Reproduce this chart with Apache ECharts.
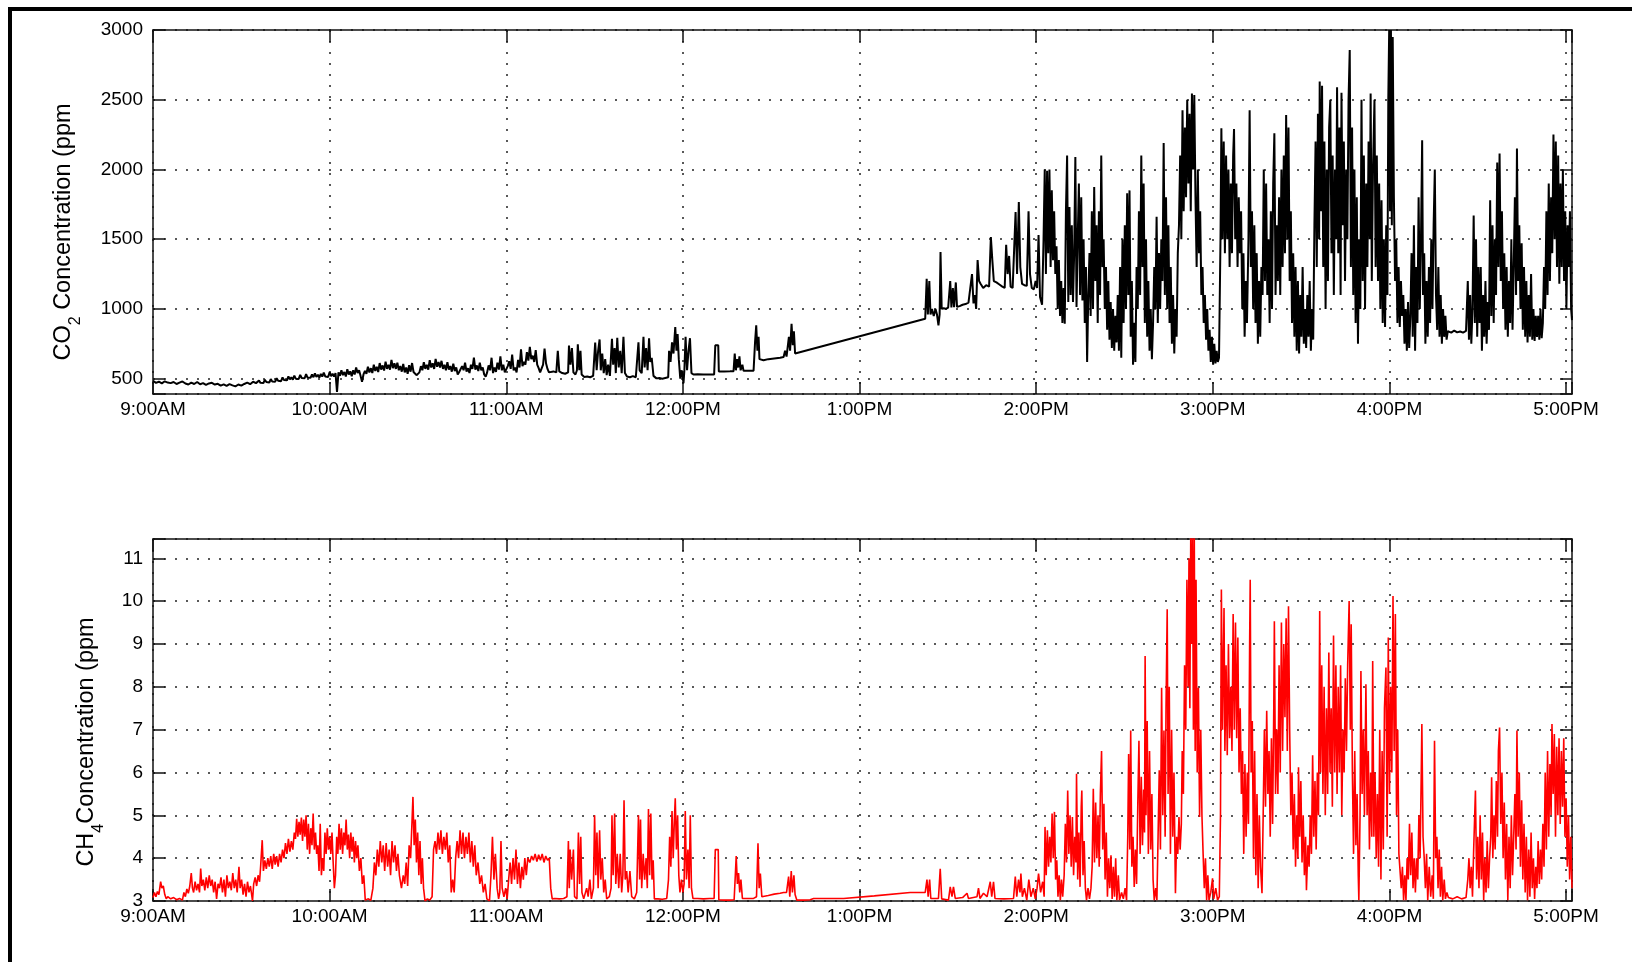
<!DOCTYPE html>
<html>
<head>
<meta charset="utf-8">
<title>CO2 / CH4 concentration</title>
<script src="https://cdn.jsdelivr.net/npm/echarts@6.0.0/dist/echarts.min.js"></script>
<style>
    html, body { margin: 0; padding: 0; background: #fff; }
    #chart { width: 1632px; height: 962px; }
</style>
</head>
<body>
<div id="chart"></div>
<script>
// time is minutes after 9:00AM
const tickLabels = ['9:00AM', '10:00AM', '11:00AM', '12:00PM', '1:00PM', '2:00PM', '3:00PM', '4:00PM', '5:00PM'];
const co2Ticks = [500, 1000, 1500, 2000, 2500, 3000];

const co2Data = [
    [0,485],[1,470],[2,478],[3,466],[4,481],[5,472],[6,468],[7,476],[8,462],[9,471],[10,480],[11,465],[12,458],[13,471],[14,462],
    [15,476],[16,460],[17,468],[18,455],[19,466],[20,470],[21,458],[22,463],[23,450],[24,459],[25,448],[26,461],[27,452],[28,445],
    [29,458],[30,450],[31,462],[32,471],[33,460],[34,478],[35,468],
    [36,486],[36.5,470],[37,482],[37.5,468],[38,492],[38.5,476],[39,488],[39.5,472],[40,497],[40.5,480],[41,492],[41.5,478],[42,503],
    [42.5,485],[43,498],[43.5,482],[44,509],[44.5,490],[45,502],[45.5,488],[46,516],[46.5,495],[47,510],[47.5,492],[48,522],[48.5,500],
    [49,514],[49.5,498],[50,527],[50.5,505],[51,518],[51.5,503],[52,532],[52.5,508],[53,522],[53.5,506],[54,530],[54.5,510],[55,538],
    [55.5,512],[56,528],[56.5,508],[57,534],[57.5,515],[58,543],[58.5,516],[59,530],[59.5,512],[60,548],[60.5,518],[61,536],[61.5,515],
    [62,540],[62.5,405],[63,545],[63.5,520],[64,560],[64.5,525],[65,548],[65.5,515],[66,568],[66.5,530],[67,552],[67.5,518],[68,560],
    [68.5,530],[69,580],[69.5,540],[70,560],[70.5,520],[71,478],[71.5,530],[72,556],[72.5,535],[73,585],[73.5,545],[74,575],[74.5,540],
    [75,600],[75.5,555],[76,585],[76.5,548],[77,612],[77.5,565],[78,595],[78.5,558],[79,622],[79.5,570],[80,600],[80.5,565],[81,635],
    [81.5,575],[82,610],[82.5,570],[83,615],[83.5,560],[84,590],[84.5,550],[85,605],[85.5,545],[86,580],[86.5,535],[87,596],[87.5,550],
    [88,612],[88.5,548],[89,560],[89.5,525],[90,518],[90.5,545],[91,590],[91.5,560],[92,618],[92.5,570],[93,600],[93.5,565],[94,632],
    [94.5,580],[95,610],[95.5,570],[96,642],[96.5,585],[97,620],[97.5,580],[98,628],[98.5,570],[99,600],[99.5,560],[100,618],[100.5,565],
    [101,590],[101.5,550],[102,608],[102.5,555],[103,580],[103.5,530],[104,548],[104.5,540],[105,590],[105.5,560],[106,615],[106.5,550],
    [107,575],[107.5,540],[108,600],[108.5,570],[109,650],[109.5,565],[110,595],[110.5,555],[111,615],[111.5,560],[112,580],[112.5,530],
    [113,515],[113.5,545],[114,595],[114.5,560],[115,650],[115.5,540],[116,580],[116.5,548],[117,615],[117.5,565],[118,660],[118.5,560],
    [119,600],[119.5,545],[120,540],[120.5,590],[121,625],[121.5,570],[122,672],[122.5,560],[123,580],[123.5,545],[124,635],[124.5,580],
    [125,710],[125.5,590],[126,620],[126.5,600],[127,690],[127.5,630],[128,728],[128.5,640],[129,665],[129.5,620],[130,705],[130.5,600],
    [131,575],[131.5,545],[132,555],[132.5,600],[133,715],[133.5,610],[134,570],[134.5,545],[135,548],
    [136,552],[137,545],[137.5,700],[138,552],[139,540],[140,535],[141,545],[141.3,738],[141.8,600],[142.3,720],[142.8,545],[143.5,530],
    [144,560],[144.3,746],[144.8,560],[145.2,700],[145.6,530],[146.5,512],[147.5,515],[148.5,510],[149.5,520],[150.2,758],[150.7,560],
    [151.2,700],[151.7,781],[152.1,560],[152.6,680],[153.1,540],[153.6,640],[154.1,525],[154.6,600],[155.2,520],[155.9,786],[156.3,600],
    [156.8,720],[157.2,540],[157.7,793],[158.2,580],[158.7,700],[159.2,540],[159.8,800],[160.3,540],[161,515],[162,510],[163,518],
    [164,510],[164.6,520],[164.9,760],[165.3,560],[166,540],[166.6,800],[167,580],[167.5,720],[168,560],[168.5,790],[168.9,620],
    [169.4,650],[170,520],[171,502],[172,505],[173,500],[174,505],[175,510],[175.3,700],[175.8,620],[176.3,760],[176.8,680],[177.4,870],
    [177.8,700],[178.2,820],[178.6,640],[179.1,500],[179.6,560],[180.2,467],[180.5,560],[180.9,800],[181.4,560],[181.9,700],[182.4,790],
    [182.9,540],[183.6,530],[185,531],[187,530],[189,529],[190.6,530],[191,739],[192,739],[192.2,552],[194,552],[196,553],[197.2,554],
    [197.6,680],[198,560],[198.4,640],[198.8,580],[199.2,660],[199.6,560],[200.2,600],[200.6,556],[202,556],[204,557],[204.5,760],
    [204.9,882],[205.3,700],[205.7,800],[206,640],[206.4,628],[207.4,632],[209,640],[211,645],[213,650],[214.2,655],[214.7,700],
    [215.2,658],[215.6,660],[216,800],[216.4,700],[216.9,894],[217.3,740],[217.7,840],[218.1,680],[218.7,670],
    [262.3,930],[262.8,1217],[263.2,960],[263.7,1200],[264.1,960],[264.6,1000],[265.2,950],[265.8,1000],[266.3,960],[266.8,882],
    [267.2,960],[267.5,1408],[267.9,1000],[268.6,1005],[269.3,1000],[270.1,1010],[270.8,1200],[271.2,1010],[271.7,1150],[272.1,1012],
    [272.7,1190],[273.1,1015],[274,1020],[275,1030],[276,1035],[277,1045],[277.6,1050],[278.2,1250],[278.7,1040],[279.2,1100],
    [279.6,1000],[280.1,1350],[280.6,1200],[281.1,1180],[282,1150],[283,1170],[284,1160],[284.6,1516],[285.1,1350],[285.6,1200],
    [286.5,1190],[287.5,1175],[288.5,1160],[289.3,1150],[289.8,1460],[290.3,1250],[290.8,1380],[291.3,1160],[292,1150],[292.5,1160],
    [293,1695],[293.5,1250],[294.1,1767],[294.6,1300],[295.2,1180],[296,1170],[296.8,1165],[297.4,1700],[297.9,1250],[298.5,1150],
    [299.2,1140],[299.8,1200],[300.3,1150],[300.8,1530],[301.3,1086],[302,1030],
    [302.5,1500],[302.9,2000],[303.3,1250],[303.7,1990],[304.1,1400],[304.5,2000],[304.9,1300],[305.3,1850],[305.7,1350],[306.1,1700],
    [306.5,1250],[306.9,1450],[307.3,1000],[307.7,1350],[308.1,950],[308.5,1200],[308.9,900],[309.3,1150],[309.7,894],[310.1,1700],
    [310.5,2100],[310.9,1050],[311.3,1730],[311.7,1100],[312.1,1600],[312.5,1050],[312.9,1400],[313.3,2090],[313.7,1014],[314.1,1500],
    [314.5,1900],[314.9,1100],[315.3,1800],[315.7,1060],[316.1,1500],[316.5,900],[316.9,1300],[317.3,620],[317.7,1100],[318.1,1400],
    [318.5,950],[318.9,1700],[319.3,1000],[319.7,1875],[320.1,1200],[320.5,1600],[320.9,900],[321.3,1700],[321.7,1100],[322.1,2100],
    [322.5,1300],[322.9,1500],[323.3,1000],[323.7,1300],[324.1,850],[324.5,1200],[324.9,780],[325.3,1050],[325.7,720],[326.1,1000],
    [326.5,700],[326.9,950],[327.3,760],[327.7,1100],[328.1,700],[328.5,1300],[328.9,650],[329.3,1500],[329.7,900],[330.1,1600],
    [330.5,1000],[330.9,1830],[331.3,1100],[331.7,1850],[332.1,800],[332.5,1200],[332.9,600],[333.3,900],[333.7,620],[334.1,1300],
    [334.5,1000],[334.9,1700],[335.3,1100],[335.7,2100],[336.1,1300],[336.5,1900],[336.9,900],[337.3,1500],[337.7,800],[338.1,1200],
    [338.5,700],[338.9,1000],[339.3,640],[339.7,900],[340.1,1300],[340.5,1000],[340.9,1660],[341.3,900],[341.7,1400],[342.1,1000],
    [342.5,1500],[342.9,1200],[343.3,2190],[343.7,1100],[344.1,1800],[344.5,1000],[344.9,1600],[345.3,900],[345.7,1300],[346.1,750],
    [346.5,1100],[346.9,680],[347.3,1000],[347.7,800],[348.1,1400],[348.5,1600],[348.9,2100],[349.3,1500],[349.7,2425],[350.1,1700],
    [350.5,2300],[350.9,1800],[351.3,2500],[351.7,1900],[352.1,2400],[352.5,1700],[352.9,2545],[353.3,2000],[353.7,2533],[354.1,1800],
    [354.5,1300],[354.9,2000],[355.3,1400],[355.7,1700],[356.1,1100],[356.5,1300],[356.9,900],[357.3,1100],[357.7,780],[358.1,1000],
    [358.5,700],[358.9,850],[359.3,620],[359.7,800],[360.1,600],[360.5,750],[360.9,610],[361.3,700],[361.7,620],[362.1,650],
    [362.6,1500],[362.9,2295],[363.3,1500],[363.7,2200],[364.1,1400],[364.5,2100],[364.9,1500],[365.3,2000],[365.7,1300],[366.1,1900],
    [366.5,1400],[366.9,2100],[367.2,2290],[367.6,1500],[368,1900],[368.4,1300],[368.8,1800],[369.2,1400],[369.6,1700],[370,1000],
    [370.4,1400],[370.8,800],[371.2,1200],[371.6,900],[372.1,1500],[372.5,2425],[372.9,1300],[373.3,1700],[373.7,1000],[374.1,1600],
    [374.5,900],[374.9,1400],[375.3,750],[375.7,1200],[376.1,800],[376.5,1300],[376.9,1100],[377.3,2000],[377.7,1200],[378.1,1900],
    [378.5,1100],[378.9,1500],[379.3,900],[379.7,1700],[380.1,1000],[380.5,1900],[380.9,2260],[381.3,1100],[381.7,1600],[382.1,1200],
    [382.5,1800],[382.9,1100],[383.3,2000],[383.7,1300],[384.1,2100],[384.5,1400],[384.9,2390],[385.3,1500],[385.7,2300],[386.1,1200],
    [386.5,1700],[386.9,900],[387.3,1400],[387.7,800],[388.1,1300],[388.5,700],[388.9,1200],[389.3,680],[389.7,1100],[390.1,800],
    [390.5,1300],[390.9,750],[391.3,1000],[391.7,720],[392.1,1100],[392.5,800],[392.9,1200],[393.3,700],[393.7,1000],[394.1,780],
    [394.5,1600],[394.9,2200],[395.3,1300],[395.7,2400],[396.1,1500],[396.3,2630],[396.7,1700],[397.1,2600],[397.5,1300],[397.9,2200],
    [398.3,1000],[398.7,2000],[399.1,1200],[399.5,2300],[399.9,2500],[400.3,1400],[400.7,2100],[401.1,1100],[401.5,2000],[401.9,1500],
    [402.2,2590],[402.6,1400],[403,2300],[403.4,1100],[403.7,2550],[404.1,1600],[404.5,2200],[404.9,1200],[405.3,2000],[405.7,1500],
    [406.1,2500],[406.5,2856],[406.9,1300],[407.3,2300],[407.7,1100],[408.1,2000],[408.5,900],[408.9,1800],[409.3,750],[409.7,1500],
    [410.1,1000],[410.5,2500],[410.9,1200],[411.3,2100],[411.7,1000],[412.1,1900],[412.5,1300],[412.9,2200],[413.3,1500],[413.6,2545],
    [414,1200],[414.4,2000],[414.9,2500],[415.3,1300],[415.7,2100],[416.1,1200],[416.5,1900],[416.9,1000],[417.3,1780],[417.7,900],
    [418.1,1500],[418.5,870],[418.9,1600],[419.3,1100],[419.6,2500],[419.9,3000],[420.2,1700],[420.5,3000],[420.8,1600],[421.1,2950],
    [421.5,1800],[421.9,1200],[422.3,1500],[422.7,900],[423.1,1300],[423.5,870],[423.9,1200],[424.3,950],[424.7,1100],[425.1,750],
    [425.5,1000],[425.9,700],[426.3,1050],[426.7,720],[427.1,950],[427.5,1400],[427.9,800],[428.3,1600],[428.7,700],[429.1,1300],
    [429.5,900],[429.9,1800],[430.3,1000],[430.7,1500],[431.1,2210],[431.4,1100],[431.8,1400],[432.2,750],[432.6,1200],[433,800],
    [433.4,1300],[433.8,900],[434.2,1500],[434.6,1000],[435,1600],[435.4,2000],[435.8,1100],[436.2,850],[436.6,1300],[437,800],
    [437.4,1100],[437.8,750],[438.2,1000],[438.6,800],[439,950],[439.4,780],[439.8,840],[441,830],[442,845],[443,832],[444,838],
    [445,830],[446,842],[446.6,1200],[447,780],[447.4,1100],[447.8,750],[448.2,1000],[448.6,1670],[449,900],[449.4,1500],[449.8,800],
    [450.2,1300],[450.6,900],[451,1300],[451.4,700],[451.8,1100],[452.2,800],[452.6,1200],[453,750],[453.4,1050],[453.8,850],
    [454.2,1780],[454.6,950],[455,1600],[455.4,900],[455.8,1500],[456.2,1100],[456.6,2050],[457,1300],[457.4,2115],[457.8,1200],
    [458.2,1700],[458.6,1000],[459,1400],[459.4,850],[459.8,1300],[460.2,800],[460.6,1200],[461,900],[461.4,1500],[461.8,850],
    [462.2,1300],[462.6,1800],[463,1100],[463.3,2150],[463.7,1200],[464.1,1600],[464.5,1000],[464.9,1470],[465.3,850],[465.7,1300],
    [466.1,800],[466.5,1200],[466.9,760],[467.3,1100],[467.7,800],[468.1,1250],[468.5,780],[468.9,1000],[469.3,770],[469.7,950],
    [470.1,800],[470.5,950],[470.9,780],[471.3,1000],[471.7,790],[472.1,900],[472.5,1300],[472.9,1000],[473.3,1700],[473.7,1100],
    [474.1,1900],[474.5,1200],[474.9,1800],[475.3,1400],[475.7,2250],[476.1,1500],[476.5,2200],[476.9,1300],[477.3,2100],[477.7,1180],
    [478.1,1900],[478.5,1300],[478.9,2000],[479.3,1200],[479.7,1700],[480.1,1000],[480.5,1600],[480.9,1300],[481.3,1700],[481.7,1000],
    [482,920]
];

const ch4Data = [
    [0,3.08],[0.5,3.2],[1,3.1],[1.5,3.22],[2,3.15],[2.6,3.45],[3,3.3],[3.5,3.35],[4,3.15],[4.5,3.05],[5,3.1],[6,3.05],[7,3.08],[8,3.03],
    [9,3.06],[10,3.02],[10.5,3.2],[11,3.1],[11.5,3.28],[12,3.18],[12.5,3.35],[13,3.65],[13.4,3.3],[13.8,3.2],[14.3,3.45],[14.8,3.25],
    [15.3,3.4],[15.8,3.2],[16.2,3.76],[16.6,3.35],[17.1,3.5],[17.6,3.25],[18.1,3.55],[18.6,3.3],[19.1,3.6],[19.6,3.35],[20.1,3.5],
    [20.6,3.2],[21.1,3.45],[21.6,3.05],[22.1,3.4],[22.6,3.3],[23.1,3.55],[23.6,3.2],[24.1,3.5],[24.6,3.1],[25.1,3.6],[25.6,3.3],
    [26.1,3.45],[26.6,3.25],[27.1,3.65],[27.6,3.3],[28.1,3.5],[28.6,3.2],[29.2,3.8],[29.6,3.3],[30.1,3.5],[30.6,3.15],[31.1,3.4],
    [31.6,3.1],[32.1,3.45],[32.6,3.2],[33.1,3.35],[33.8,3.0],[34.2,3.4],[34.7,3.55],[35.2,3.35],[35.7,3.6],[36.2,3.45],[36.6,3.85],
    [37.1,4.42],[37.5,3.7],[38,3.95],[38.5,3.75],[39,4.0],[39.5,3.8],[40,4.05],[40.5,3.75],[41,4.1],[41.5,3.85],[42,4.05],[42.5,3.8],
    [43,4.1],[43.5,3.9],[44,4.2],[44.5,4.0],[45,4.35],[45.5,4.1],[46,4.45],[46.5,4.15],[47,4.4],[47.5,4.2],[48,4.6],[48.4,4.45],
    [48.8,4.92],[49.2,4.5],[49.6,4.85],[50,4.55],[50.4,4.95],[50.8,4.4],[51.2,4.9],[51.6,4.5],[52,5.0],[52.4,4.2],[52.8,4.8],[53.2,4.1],
    [53.6,4.7],[54,4.3],[54.4,5.04],[54.8,4.2],[55.2,4.6],[55.6,4.1],[56,4.3],[56.4,3.7],[56.8,4.8],[57.2,3.6],[57.6,4.0],[58,3.7],
    [58.4,4.6],[58.8,4.1],[59.2,4.7],[59.6,4.2],[60,4.5],[60.4,4.1],[60.8,4.6],[61.2,3.9],[61.6,3.3],[62,3.6],[62.4,4.5],[62.8,4.1],
    [63.2,4.8],[63.6,4.2],[64,4.7],[64.4,4.1],[64.8,4.6],[65.2,4.3],[65.6,4.9],[66,4.2],[66.4,4.55],[66.8,4.0],[67.2,4.6],[67.6,4.15],
    [68,4.5],[68.4,3.9],[68.8,4.4],[69.2,4.0],[69.6,4.3],[70.1,3.7],[70.6,4.0],[71.1,3.4],[71.6,3.6],[72.1,3.02],[73,3.05],[74,3.02],
    [74.7,3.3],[75.2,3.9],[75.7,3.6],[76.2,4.2],[76.7,3.8],[77.2,4.4],[77.7,3.9],[78.2,4.3],[78.7,3.7],[79.2,4.35],[79.7,3.8],[80.2,4.2],
    [80.7,3.6],[81.2,4.4],[81.7,3.9],[82.2,4.3],[82.7,3.7],[83.2,4.1],[83.7,3.6],[84.4,3.3],[85,3.6],[85.5,3.4],[86,3.9],[86.5,3.35],
    [87,4.3],[87.5,4.0],[88.3,5.43],[88.7,4.3],[89.1,4.9],[89.5,3.9],[89.9,4.6],[90.3,3.6],[90.7,4.4],[91.1,3.4],[91.5,4.0],[91.9,3.3],
    [92.4,3.0],[93.2,3.05],[94,3.02],[94.8,3.1],[95.3,4.2],[95.8,4.4],[96.3,4.1],[96.8,4.6],[97.3,4.2],[97.8,4.65],[98.3,4.1],[98.8,4.5],
    [99.3,4.2],[99.8,4.6],[100.3,3.9],[100.8,4.3],[101.3,3.2],[101.8,3.5],[102.3,3.2],[102.8,4.0],[103.3,4.4],[103.8,4.0],[104.3,4.65],
    [104.8,4.1],[105.3,4.6],[105.8,4.0],[106.3,4.5],[106.8,4.1],[107.3,4.6],[107.8,3.9],[108.3,4.4],[108.8,3.8],[109.3,4.3],[109.8,3.6],
    [110.4,3.9],[111,3.4],[111.6,3.6],[112.2,3.2],[112.8,3.4],[113.4,3.05],[114.3,3.0],[114.8,3.6],[115.3,4.5],[115.8,3.5],[116.3,4.1],
    [116.9,3.3],[117.4,3.05],[117.8,3.2],[118.2,4.4],[118.6,3.3],[119.2,3.1],[119.8,3.3],[120.3,3.05],[120.8,3.5],[121.3,3.9],[121.8,3.4],
    [122.3,4.0],[122.8,3.5],[123.3,4.2],[123.8,3.4],[124.3,3.9],[124.8,3.3],[125.3,3.8],[125.8,3.5],[126.3,4.0],[126.8,3.6],[127.3,4.0],
    [128,3.9],[128.6,4.05],[129.2,3.95],[129.8,4.1],[130.4,3.92],[131,4.08],[131.6,3.95],[132.2,4.1],[132.8,3.9],[133.4,4.05],[134,3.95],
    [134.6,4.0],[135.1,3.3],[135.6,3.05],
    [136.5,3.06],[138,3.05],[139.5,3.06],[140.6,3.1],[141.1,4.4],[141.4,3.3],[141.7,4.2],[142.2,3.5],[142.8,4.2],[143.2,3.1],[144,3.05],
    [144.5,4.6],[144.9,3.4],[145.3,4.5],[145.7,3.2],[146.3,3.05],[147.3,3.3],[147.8,3.1],[148.4,3.5],[148.9,3.05],[149.6,3.3],[150,5.0],
    [150.4,3.6],[150.8,4.6],[151.2,3.3],[151.7,4.65],[152.1,3.5],[152.6,4.0],[153.1,3.2],[153.6,3.5],[154.1,3.05],[155,3.1],[155.6,3.3],
    [155.9,5.0],[156.3,3.6],[156.8,5.04],[157.2,3.4],[157.7,4.1],[158.2,3.3],[158.7,4.1],[159.2,3.2],[159.6,3.6],[160,5.35],[160.4,3.5],
    [160.9,3.7],[161.4,3.2],[162,3.7],[162.6,3.1],[163.5,3.05],[164.3,3.2],[164.9,5.0],[165.3,3.5],[165.6,4.9],[166,3.3],[166.5,4.1],
    [167,3.5],[167.5,4.0],[167.9,3.3],[168.3,5.15],[168.7,3.6],[169.1,5.04],[169.5,3.5],[169.9,3.95],[170.3,3.05],[171.5,3.05],[173,3.04],
    [174.5,3.06],[175.1,3.5],[175.5,4.5],[175.9,3.8],[176.3,5.1],[176.7,4.0],[177.1,4.9],[177.4,5.4],[177.8,4.2],[178.2,5.0],[178.6,3.6],
    [179,3.2],[179.5,3.5],[180,3.2],[180.4,3.4],[180.8,5.1],[181.2,3.5],[181.7,4.2],[182.1,3.3],[182.5,5.0],[182.9,3.3],[183.4,3.06],
    [185,3.06],[187,3.05],[189,3.06],[190.6,3.06],[191,4.2],[192,4.2],[192.2,3.03],[194,3.02],[196,3.02],[197.4,3.03],[197.8,3.6],
    [198.1,4.05],[198.5,3.4],[198.9,3.65],[199.3,3.2],[199.7,3.5],[200.2,3.06],[202,3.06],[204,3.06],[205,3.1],[205.5,4.35],[205.9,3.3],
    [206.3,3.64],[206.8,3.1],[209,3.13],[211,3.16],[213,3.18],[214.2,3.2],[215.2,3.2],[215.9,3.57],[216.3,3.1],[216.8,3.7],[217.2,3.2],
    [217.7,3.6],[218.1,3.15],[218.7,3.02],[221,3.02],[223.2,3.03],[224.4,3.06],[230,3.06],[234.6,3.06],[245,3.12],[257.2,3.2],[262.3,3.2],
    [262.9,3.5],[263.3,3.1],[263.8,3.5],[264.2,3.06],[266.8,3.06],[267.4,3.75],[267.9,3.05],[270.2,3.02],[270.8,3.33],[271.4,3.1],
    [271.9,3.33],[272.5,3.06],[275,3.08],[276.5,3.18],[277,3.06],[279.9,3.1],[280.4,3.3],[280.9,3.06],[282.1,3.18],[283.3,3.1],
    [284.4,3.45],[284.9,3.1],[285.5,3.45],[286,3.06],[289,3.05],[292.3,3.06],[292.9,3.57],[293.4,3.1],[294,3.5],[294.5,3.2],[294.8,3.64],
    [295.3,3.1],[296,3.3],[296.8,3.02],[297.5,3.5],[298.2,3.1],[299,3.3],[299.7,3.05],[300.3,3.3],[300.8,3.64],[301.5,3.2],[302.2,3.45],
    [302.7,3.1],
    [303,4.73],[303.4,3.6],[303.8,4.65],[304.2,3.8],[304.6,4.5],[305,3.9],[305.4,5.04],[305.8,4.0],[306.2,5.08],[306.6,3.5],[307,3.95],
    [307.4,3.1],[307.8,3.6],[308.2,3.02],[308.6,3.5],[309,3.1],[309.5,3.6],[309.9,4.8],[310.3,3.9],[310.7,5.58],[311.1,4.1],[311.5,5.0],
    [311.9,3.8],[312.3,4.96],[312.7,3.6],[313.1,4.5],[313.5,3.9],[313.7,5.97],[314.1,3.5],[314.5,4.6],[314.9,3.33],[315.3,5.2],[315.5,5.58],
    [315.9,3.6],[316.3,4.4],[316.7,3.3],[317.1,3.02],[317.6,3.3],[318.1,3.05],[318.6,3.3],[319,3.8],[319.4,5.62],[319.8,3.9],[320.2,5.3],
    [320.6,4.0],[321,5.0],[321.4,3.8],[321.8,5.5],[322.2,6.5],[322.6,4.2],[323,5.27],[323.4,3.5],[323.8,4.6],[324.2,3.1],[324.6,4.0],
    [325,3.3],[325.4,4.07],[325.8,3.05],[326.2,3.8],[326.6,3.1],[327,4.0],[327.4,3.02],[327.9,3.6],[328.3,3.02],[329,3.2],[329.6,3.05],
    [330.2,3.3],[330.7,3.02],[331.1,4.5],[331.4,6.43],[331.8,4.2],[332.1,6.98],[332.5,3.8],[332.9,4.5],[333.3,3.33],[333.7,4.2],[334.1,3.4],
    [334.5,5.2],[334.9,6.74],[335.3,4.1],[335.7,5.9],[336.1,4.3],[336.5,5.6],[336.8,4.6],[337,8.72],[337.3,5.0],[337.7,7.2],[338.1,4.1],
    [338.5,6.5],[338.9,4.2],[339.3,5.5],[339.7,3.5],[340.1,3.02],[340.6,3.3],[341,3.02],[341.4,4.5],[341.8,6.05],[342.2,4.2],[342.6,7.98],
    [343,5.0],[343.4,6.98],[343.8,4.5],[344.1,7.5],[344.5,9.81],[344.8,5.5],[345.2,8.0],[345.6,4.1],[346,7.0],[346.4,4.5],[346.8,6.0],
    [347.3,3.18],[347.7,4.5],[348.1,4.1],[348.5,4.96],[348.9,4.2],[349.3,4.8],[349.6,6.5],[350,5.5],[350.4,8.5],[350.8,7.0],[351.2,10.5],
    [351.6,8.0],[351.9,11.0],[352.2,7.5],[352.5,11.5],[352.8,9.0],[353.1,11.6],[353.4,7.0],[353.7,11.5],[354,6.5],[354.3,10.5],[354.7,6.0],
    [355.1,7.98],[355.5,4.96],[355.9,7.0],[356.3,5.0],[356.7,4.1],[357.1,3.3],[357.5,4.0],[357.9,3.02],[358.3,3.6],[358.7,3.02],[359.3,3.2],
    [359.9,3.53],[360.3,3.05],[361,3.3],[361.6,3.02],[362.2,3.1],[362.6,5.0],[362.9,10.27],[363.3,7.0],[363.8,9.84],[364.1,6.5],[364.5,8.5],
    [364.9,6.4],[365.3,9.0],[365.7,6.8],[366.1,8.0],[366.5,6.5],[366.9,9.7],[367.3,7.0],[367.7,9.5],[368.1,6.8],[368.5,9.15],[368.9,6.0],
    [369.3,7.5],[369.7,5.5],[370.1,6.5],[370.5,4.1],[370.9,6.2],[371.3,4.5],[371.7,6.0],[372.1,4.8],[372.5,9.0],[372.7,10.5],[373,6.0],
    [373.4,7.2],[373.8,4.0],[374.2,6.5],[374.6,3.6],[375,5.5],[375.4,3.3],[375.8,5.0],[376.2,3.8],[376.7,3.18],[377.1,5.0],[377.5,7.0],
    [377.9,5.2],[378.3,7.44],[378.7,5.5],[379.1,6.5],[379.5,4.5],[379.9,6.8],[380.3,4.8],[380.7,7.5],[380.9,9.53],[381.3,5.5],[381.7,7.0],
    [382.1,5.5],[382.5,8.5],[382.9,6.0],[383.3,9.5],[383.7,6.5],[384.1,9.0],[384.5,7.29],[384.9,9.6],[385.3,6.5],[385.7,9.88],[386.1,7.0],
    [386.5,5.0],[386.9,6.0],[387.3,4.2],[387.7,5.5],[388.1,3.8],[388.5,5.0],[388.9,4.0],[389.1,6.12],[389.5,4.5],[389.9,5.8],[390.3,3.9],
    [390.7,5.0],[391.1,3.6],[391.5,4.5],[391.8,3.25],[392.3,4.3],[392.7,3.8],[393.1,5.0],[393.5,4.1],[393.9,6.4],[394.3,4.5],[394.7,5.8],
    [395.1,4.2],[395.5,6.0],[395.9,5.0],[396.3,9.77],[396.6,6.0],[397,8.5],[397.4,5.5],[397.8,8.0],[398.2,5.0],[398.6,7.5],[399,5.5],
    [399.4,8.8],[399.8,6.0],[400.2,7.5],[400.6,5.2],[401,9.2],[401.4,6.0],[401.8,8.5],[402.2,5.5],[402.6,8.0],[403,6.0],[403.4,8.5],
    [403.8,5.0],[404.2,7.0],[404.6,6.0],[405,8.2],[405.4,6.5],[405.8,8.5],[406.3,10.0],[406.7,7.0],[407,9.46],[407.4,6.0],[407.8,4.1],
    [408.2,6.5],[408.6,4.3],[409,5.5],[409.4,3.6],[409.6,3.02],[410,5.0],[410.3,8.37],[410.7,5.5],[411.1,7.0],[411.5,5.0],[412,8.06],
    [412.4,5.0],[412.8,6.5],[413.2,4.2],[413.6,6.0],[414,4.5],[414.3,8.6],[414.7,4.5],[415.1,6.0],[415.5,4.0],[415.9,5.5],[416.3,3.8],
    [416.7,7.0],[417.1,3.5],[417.5,6.5],[417.9,4.2],[418.3,7.5],[418.8,8.45],[419.2,4.5],[419.6,9.15],[420,5.5],[420.4,8.0],[420.8,6.0],
    [421.2,10.12],[421.6,6.5],[422,9.7],[422.4,5.0],[422.8,7.0],[423.2,4.1],[423.6,4.1],[424,3.3],[424.4,3.8],[424.8,3.02],[425.2,3.6],
    [425.6,3.02],[426,4.0],[426.4,3.5],[426.8,4.8],[427.2,3.6],[427.6,4.6],[428,3.3],[428.4,4.0],[428.8,3.2],[429.2,4.0],[429.6,3.5],
    [430,5.0],[430.4,4.0],[430.8,6.0],[431,7.13],[431.4,4.5],[431.8,4.0],[432.2,3.3],[432.6,4.1],[433,3.02],[433.5,3.8],[434,3.1],
    [434.5,3.6],[434.9,3.05],[435.3,6.74],[435.7,4.0],[436.1,4.5],[436.5,3.3],[436.9,4.2],[437.3,3.1],[437.7,3.8],[438.1,3.02],[438.6,3.5],
    [439,3.05],[439.5,3.2],[440,3.08],[441.5,3.05],[443,3.1],[444.5,3.05],[446,3.08],[446.6,3.5],[447,4.0],[447.4,3.3],[447.8,3.8],
    [448.2,3.1],[448.6,4.2],[449.2,5.58],[449.6,3.5],[450,4.5],[450.4,3.3],[450.8,5.0],[451.2,3.5],[451.6,4.6],[452,3.02],[452.4,4.0],
    [452.8,3.2],[453.2,4.4],[453.6,3.3],[454,4.0],[454.4,4.5],[454.7,5.89],[455.1,4.0],[455.5,5.0],[455.9,4.2],[456.3,5.8],[456.7,4.5],
    [457,6.5],[457.4,7.05],[457.8,4.8],[458.2,6.0],[458.6,4.0],[459,5.3],[459.4,3.5],[459.8,4.8],[460.2,3.02],[460.6,4.5],[461,3.3],
    [461.4,5.0],[461.8,3.6],[462.2,4.5],[462.6,5.5],[463,4.2],[463.3,6.98],[463.7,4.5],[464.1,6.0],[464.5,3.8],[464.9,5.35],[465.3,3.5],
    [465.7,4.8],[466.1,3.2],[466.5,4.5],[466.9,3.02],[467.3,4.2],[467.7,3.1],[468.1,4.6],[468.5,3.3],[468.9,4.0],[469.3,3.05],[469.7,3.8],
    [470.1,3.3],[470.5,4.4],[470.9,3.4],[471.3,4.2],[471.7,3.5],[472.1,4.8],[472.5,3.8],[472.9,6.0],[473.3,4.2],[473.7,6.5],[474.1,4.5],
    [474.5,6.2],[474.9,5.0],[475.2,7.13],[475.6,5.5],[476,6.9],[476.4,4.5],[476.8,6.6],[477.2,5.0],[477.6,6.8],[478,4.8],[478.4,6.5],
    [478.8,5.2],[479.2,6.8],[479.6,4.5],[480,5.4],[480.4,3.8],[480.8,5.0],[481.2,3.5],[481.6,4.5],[482,3.3]
];

const FONT = "'Liberation Sans', Arial, sans-serif";
const AXIS_COLOR = '#111';
const gridDots = { color: '#222', type: [2, 9], width: 1.5 };

function timeAxis(gridIndex, position) {
    return {
        type: 'value',
        gridIndex: gridIndex,
        position: position,
        min: 0,
        max: 482,
        interval: 60,
        axisLine: { show: true, onZero: false, lineStyle: { color: AXIS_COLOR, width: 1.5 } },
        axisTick: { show: true, inside: true, length: 12, lineStyle: { color: AXIS_COLOR, width: 1.5 } },
        axisLabel: {
            show: position === 'bottom',
            margin: 6,
            color: '#000',
            fontSize: 19,
            fontFamily: FONT,
            formatter: function (v) {
                return v % 60 === 0 ? tickLabels[v / 60] : '';
            }
        },
        splitLine: { show: position === 'bottom', lineStyle: gridDots }
    };
}

function valueAxis(gridIndex, position, min, max, labelFn) {
    return {
        type: 'value',
        gridIndex: gridIndex,
        position: position,
        min: min,
        max: max,
        axisLine: { show: true, onZero: false, lineStyle: { color: AXIS_COLOR, width: 1.5 } },
        axisTick: { show: true, inside: true, length: 12, lineStyle: { color: AXIS_COLOR, width: 1.5 } },
        axisLabel: {
            show: position === 'left',
            margin: 10,
            color: '#000',
            fontSize: 19,
            fontFamily: FONT,
            formatter: labelFn
        },
        splitLine: { show: position === 'left', lineStyle: gridDots }
    };
}

const co2Label = function (v) { return co2Ticks.indexOf(v) >= 0 ? String(v) : ''; };
const ch4Label = function (v) { return Number.isInteger(v) ? String(v) : ''; };

let ch4Y = valueAxis(1, 'left', 3, 11.45, ch4Label);
ch4Y.interval = 1;
let ch4YRight = valueAxis(1, 'right', 3, 11.45, ch4Label);
ch4YRight.interval = 1;

const nameRich = {
    n: { fontSize: 23.5, fontFamily: FONT, color: '#000', padding: [0, 0, 8, 0], verticalAlign: 'bottom' },
    s: { fontSize: 16, fontFamily: FONT, color: '#000', verticalAlign: 'bottom' }
};

let myChart = echarts.init(document.getElementById('chart'));
myChart.setOption({
    animation: false,
    backgroundColor: '#fff',
    grid: [
        { left: 153, top: 30, width: 1419, height: 364 },
        { left: 153, top: 539, width: 1419, height: 362 }
    ],
    xAxis: [
        timeAxis(0, 'bottom'),
        timeAxis(0, 'top'),
        timeAxis(1, 'bottom'),
        timeAxis(1, 'top')
    ],
    yAxis: [
        valueAxis(0, 'left', 390, 3000, co2Label),
        valueAxis(0, 'right', 390, 3000, co2Label),
        ch4Y,
        ch4YRight
    ],
    graphic: [
        // figure frame (only top and left edges are inside the page)
        {
            type: 'rect',
            shape: { x: 10, y: 9, width: 1700, height: 1000 },
            style: { fill: null, stroke: '#000', lineWidth: 4 },
            silent: true
        },
        {
            type: 'text',
            x: 68, y: 232,
            rotation: Math.PI / 2,
            style: {
                text: '{n|CO}{s|2}{n| Concentration (ppm}',
                rich: nameRich,
                align: 'center',
                verticalAlign: 'middle'
            }
        },
        {
            type: 'text',
            x: 91, y: 742,
            rotation: Math.PI / 2,
            style: {
                text: '{n|CH}{s|4}{n|Concentration (ppm}',
                rich: nameRich,
                align: 'center',
                verticalAlign: 'middle'
            }
        }
    ],
    series: [
        {
            name: 'CO2',
            type: 'line',
            xAxisIndex: 0,
            yAxisIndex: 0,
            data: co2Data,
            showSymbol: false,
            clip: true,
            lineStyle: { color: '#000', width: 2 },
            z: 3
        },
        {
            name: 'CH4',
            type: 'line',
            xAxisIndex: 2,
            yAxisIndex: 2,
            data: ch4Data,
            showSymbol: false,
            clip: true,
            lineStyle: { color: '#ff0000', width: 1.6 },
            z: 3
        }
    ]
});
</script>
</body>
</html>
